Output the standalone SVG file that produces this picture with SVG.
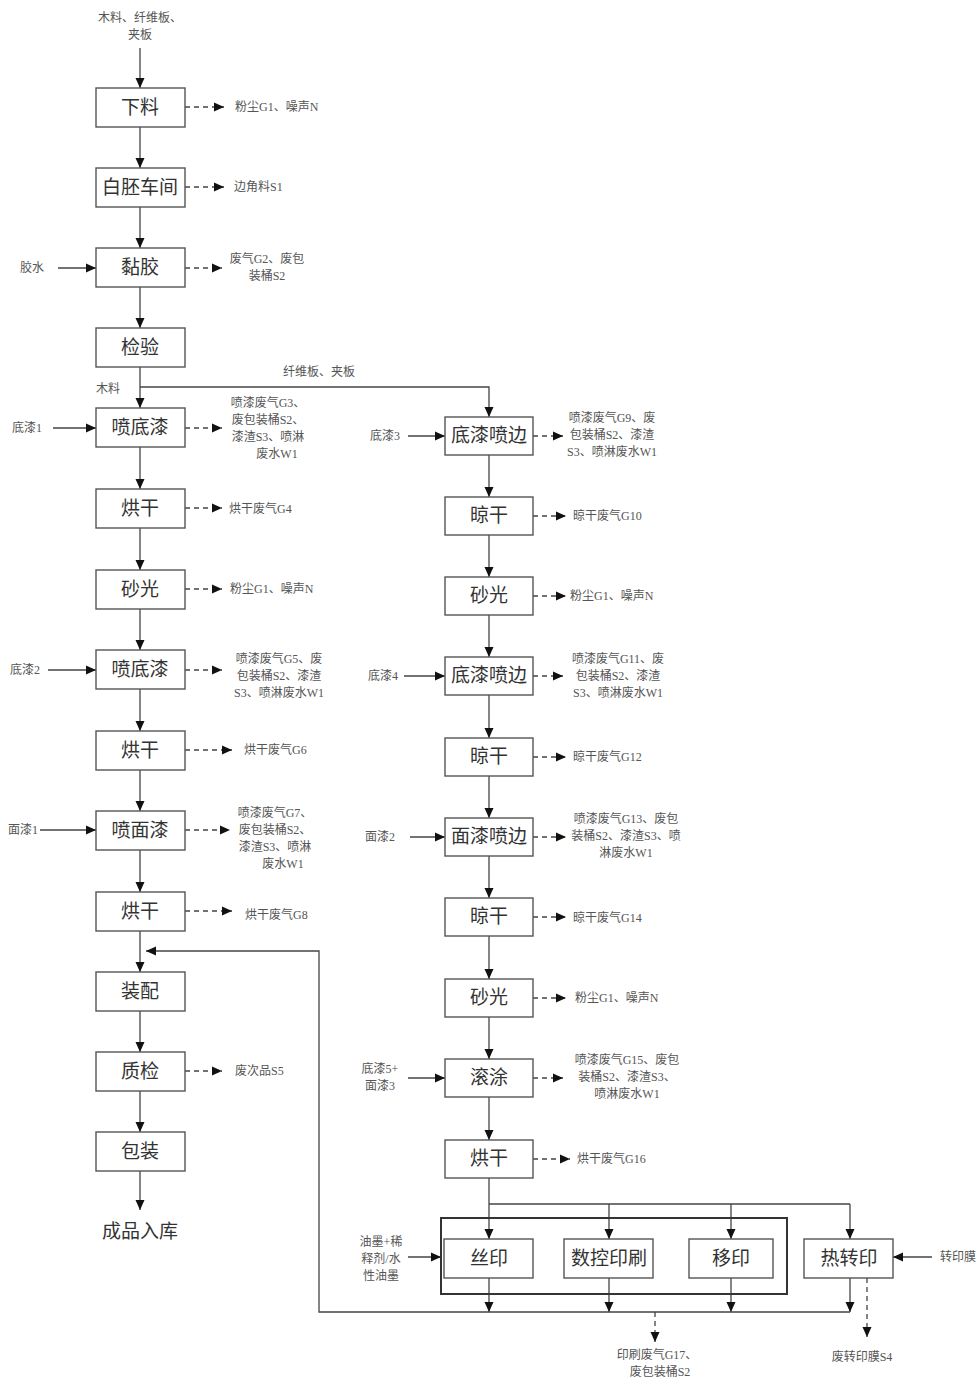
<svg xmlns="http://www.w3.org/2000/svg" width="979" height="1383" viewBox="0 0 979 1383">
<style>
.bx{fill:#fff;stroke:#555;stroke-width:1.4}
.ob{fill:none;stroke:#333;stroke-width:2}
.bt{font-family:"Liberation Serif","Noto Sans CJK SC",serif;font-size:19px;fill:#333;text-anchor:middle}
.st{font-family:"Liberation Serif","Noto Sans CJK SC",serif;font-size:12px;fill:#555}
.c{text-anchor:middle}
.ln{fill:none;stroke:#444;stroke-width:1.3}
.ar{fill:none;stroke:#444;stroke-width:1.3;marker-end:url(#a)}
.da{fill:none;stroke:#444;stroke-width:1.3;stroke-dasharray:5,4;marker-end:url(#a)}
</style>
<defs>
<marker id="a" markerWidth="10" markerHeight="10" refX="10" refY="5" orient="auto" markerUnits="userSpaceOnUse"><path d="M0,0.5 L10,5 L0,9.5z" fill="#111"/></marker>
</defs>
<rect width="979" height="1383" fill="#fff"/>

<g id="connectors">
<!-- left main flow -->
<line class="ar" x1="140" y1="48" x2="140" y2="88"/>
<line class="ar" x1="140" y1="127" x2="140" y2="168"/>
<line class="ar" x1="140" y1="207" x2="140" y2="248"/>
<line class="ar" x1="140" y1="287" x2="140" y2="328"/>
<line class="ar" x1="140" y1="367" x2="140" y2="408"/>
<line class="ar" x1="140" y1="447" x2="140" y2="489"/>
<line class="ar" x1="140" y1="528" x2="140" y2="570"/>
<line class="ar" x1="140" y1="609" x2="140" y2="650"/>
<line class="ar" x1="140" y1="689" x2="140" y2="731"/>
<line class="ar" x1="140" y1="770" x2="140" y2="811"/>
<line class="ar" x1="140" y1="850" x2="140" y2="892"/>
<line class="ar" x1="140" y1="931" x2="140" y2="972"/>
<line class="ar" x1="140" y1="1011" x2="140" y2="1052"/>
<line class="ar" x1="140" y1="1091" x2="140" y2="1132"/>
<line class="ar" x1="140" y1="1171" x2="140" y2="1210"/>
<!-- branch -->
<polyline class="ar" points="140,387 489,387 489,417"/>
<!-- left inputs -->
<line class="ar" x1="58" y1="268" x2="96" y2="268"/>
<line class="ar" x1="53" y1="428" x2="96" y2="428"/>
<line class="ar" x1="48" y1="670" x2="96" y2="670"/>
<line class="ar" x1="40" y1="830" x2="96" y2="830"/>
<!-- left outputs -->
<line class="da" x1="185" y1="107" x2="224" y2="107"/>
<line class="da" x1="185" y1="187" x2="224" y2="187"/>
<line class="da" x1="185" y1="268" x2="222" y2="268"/>
<line class="da" x1="185" y1="428" x2="222" y2="428"/>
<line class="da" x1="185" y1="508" x2="222" y2="508"/>
<line class="da" x1="185" y1="589" x2="222" y2="589"/>
<line class="da" x1="185" y1="670" x2="222" y2="670"/>
<line class="da" x1="185" y1="750" x2="232" y2="750"/>
<line class="da" x1="185" y1="830" x2="230" y2="830"/>
<line class="da" x1="185" y1="911" x2="232" y2="911"/>
<line class="da" x1="185" y1="1071" x2="222" y2="1071"/>
<!-- right main flow -->
<line class="ar" x1="489" y1="455" x2="489" y2="497"/>
<line class="ar" x1="489" y1="535" x2="489" y2="577"/>
<line class="ar" x1="489" y1="615" x2="489" y2="657"/>
<line class="ar" x1="489" y1="695" x2="489" y2="738"/>
<line class="ar" x1="489" y1="776" x2="489" y2="818"/>
<line class="ar" x1="489" y1="856" x2="489" y2="898"/>
<line class="ar" x1="489" y1="936" x2="489" y2="979"/>
<line class="ar" x1="489" y1="1017" x2="489" y2="1059"/>
<line class="ar" x1="489" y1="1097" x2="489" y2="1140"/>
<!-- right inputs -->
<line class="ar" x1="408" y1="436" x2="445" y2="436"/>
<line class="ar" x1="404" y1="676" x2="445" y2="676"/>
<line class="ar" x1="410" y1="837" x2="445" y2="837"/>
<line class="ar" x1="408" y1="1078" x2="445" y2="1078"/>
<!-- right outputs -->
<line class="da" x1="533" y1="436" x2="563" y2="436"/>
<line class="da" x1="533" y1="516" x2="566" y2="516"/>
<line class="da" x1="533" y1="596" x2="566" y2="596"/>
<line class="da" x1="533" y1="676" x2="563" y2="676"/>
<line class="da" x1="533" y1="757" x2="566" y2="757"/>
<line class="da" x1="533" y1="837" x2="566" y2="837"/>
<line class="da" x1="533" y1="917" x2="566" y2="917"/>
<line class="da" x1="533" y1="998" x2="566" y2="998"/>
<line class="da" x1="533" y1="1078" x2="563" y2="1078"/>
<line class="da" x1="533" y1="1159" x2="570" y2="1159"/>
<!-- printing section -->
<line class="ln" x1="489" y1="1178" x2="489" y2="1204"/>
<line class="ln" x1="489" y1="1204" x2="850" y2="1204"/>
<line class="ar" x1="489" y1="1204" x2="489" y2="1239"/>
<line class="ar" x1="609" y1="1204" x2="609" y2="1239"/>
<line class="ar" x1="731" y1="1204" x2="731" y2="1239"/>
<line class="ar" x1="850" y1="1204" x2="850" y2="1239"/>
<line class="ar" x1="408" y1="1257" x2="441" y2="1257"/>
<line class="ar" x1="932" y1="1257" x2="893" y2="1257"/>
<line class="ar" x1="489" y1="1278" x2="489" y2="1312"/>
<line class="ar" x1="609" y1="1278" x2="609" y2="1312"/>
<line class="ar" x1="731" y1="1278" x2="731" y2="1312"/>
<line class="ar" x1="850" y1="1278" x2="850" y2="1312"/>
<polyline class="ar" points="850,1312 319,1312 319,951 146,951"/>
<line class="da" x1="655" y1="1312" x2="655" y2="1342"/>
<line class="da" x1="867" y1="1278" x2="867" y2="1337"/>
</g>

<g id="input-top"><text class="st c" x="140" y="22">木料、纤维板、</text><text class="st c" x="140" y="39">夹板</text></g>
<g id="label-branch"><text class="st" x="283" y="376">纤维板、夹板</text><text class="st" x="96" y="393">木料</text></g>

<g id="n1"><rect class="bx" x="96" y="88" width="89" height="39"/><text class="bt" x="140" y="114">下料</text></g>
<g id="n2"><rect class="bx" x="96" y="168" width="89" height="39"/><text class="bt" x="140" y="194">白胚车间</text></g>
<g id="n3"><rect class="bx" x="96" y="248" width="89" height="39"/><text class="bt" x="140" y="274">黏胶</text></g>
<g id="n4"><rect class="bx" x="96" y="328" width="89" height="39"/><text class="bt" x="140" y="354">检验</text></g>
<g id="n5"><rect class="bx" x="96" y="408" width="89" height="39"/><text class="bt" x="140" y="434">喷底漆</text></g>
<g id="n6"><rect class="bx" x="96" y="489" width="89" height="39"/><text class="bt" x="140" y="515">烘干</text></g>
<g id="n7"><rect class="bx" x="96" y="570" width="89" height="39"/><text class="bt" x="140" y="596">砂光</text></g>
<g id="n8"><rect class="bx" x="96" y="650" width="89" height="39"/><text class="bt" x="140" y="676">喷底漆</text></g>
<g id="n9"><rect class="bx" x="96" y="731" width="89" height="39"/><text class="bt" x="140" y="757">烘干</text></g>
<g id="n10"><rect class="bx" x="96" y="811" width="89" height="39"/><text class="bt" x="140" y="837">喷面漆</text></g>
<g id="n11"><rect class="bx" x="96" y="892" width="89" height="39"/><text class="bt" x="140" y="918">烘干</text></g>
<g id="n12"><rect class="bx" x="96" y="972" width="89" height="39"/><text class="bt" x="140" y="998">装配</text></g>
<g id="n13"><rect class="bx" x="96" y="1052" width="89" height="39"/><text class="bt" x="140" y="1078">质检</text></g>
<g id="n14"><rect class="bx" x="96" y="1132" width="89" height="39"/><text class="bt" x="140" y="1158">包装</text></g>
<g id="n15"><text class="bt" x="140" y="1238">成品入库</text></g>

<g id="left-inputs">
<text class="st" x="20" y="272">胶水</text>
<text class="st" x="12" y="432">底漆1</text>
<text class="st" x="10" y="674">底漆2</text>
<text class="st" x="8" y="834">面漆1</text>
</g>
<g id="left-outputs">
<text class="st" x="235" y="111">粉尘G1、噪声N</text>
<text class="st" x="234" y="191">边角料S1</text>
<text class="st c" x="267" y="263">废气G2、废包</text><text class="st c" x="267" y="280">装桶S2</text>
<text class="st c" x="268" y="407">喷漆废气G3、</text><text class="st c" x="268" y="424">废包装桶S2、</text><text class="st c" x="268" y="441">漆渣S3、喷淋</text><text class="st c" x="277" y="458">废水W1</text>
<text class="st" x="229" y="513">烘干废气G4</text>
<text class="st" x="230" y="593">粉尘G1、噪声N</text>
<text class="st c" x="279" y="663">喷漆废气G5、废</text><text class="st c" x="279" y="680">包装桶S2、漆渣</text><text class="st c" x="279" y="697">S3、喷淋废水W1</text>
<text class="st" x="244" y="754">烘干废气G6</text>
<text class="st c" x="275" y="817">喷漆废气G7、</text><text class="st c" x="275" y="834">废包装桶S2、</text><text class="st c" x="275" y="851">漆渣S3、喷淋</text><text class="st c" x="283" y="868">废水W1</text>
<text class="st" x="245" y="919">烘干废气G8</text>
<text class="st" x="235" y="1075">废次品S5</text>
</g>

<g id="r1"><rect class="bx" x="445" y="417" width="88" height="38"/><text class="bt" x="489" y="442">底漆喷边</text></g>
<g id="r2"><rect class="bx" x="445" y="497" width="88" height="38"/><text class="bt" x="489" y="522">晾干</text></g>
<g id="r3"><rect class="bx" x="445" y="577" width="88" height="38"/><text class="bt" x="489" y="602">砂光</text></g>
<g id="r4"><rect class="bx" x="445" y="657" width="88" height="38"/><text class="bt" x="489" y="682">底漆喷边</text></g>
<g id="r5"><rect class="bx" x="445" y="738" width="88" height="38"/><text class="bt" x="489" y="763">晾干</text></g>
<g id="r6"><rect class="bx" x="445" y="818" width="88" height="38"/><text class="bt" x="489" y="843">面漆喷边</text></g>
<g id="r7"><rect class="bx" x="445" y="898" width="88" height="38"/><text class="bt" x="489" y="923">晾干</text></g>
<g id="r8"><rect class="bx" x="445" y="979" width="88" height="38"/><text class="bt" x="489" y="1004">砂光</text></g>
<g id="r9"><rect class="bx" x="445" y="1059" width="88" height="38"/><text class="bt" x="489" y="1084">滚涂</text></g>
<g id="r10"><rect class="bx" x="445" y="1140" width="88" height="38"/><text class="bt" x="489" y="1165">烘干</text></g>

<g id="right-inputs">
<text class="st" x="370" y="440">底漆3</text>
<text class="st" x="368" y="680">底漆4</text>
<text class="st" x="365" y="841">面漆2</text>
<text class="st c" x="380" y="1073">底漆5+</text><text class="st c" x="380" y="1090">面漆3</text>
</g>
<g id="right-outputs">
<text class="st c" x="612" y="422">喷漆废气G9、废</text><text class="st c" x="612" y="439">包装桶S2、漆渣</text><text class="st c" x="612" y="456">S3、喷淋废水W1</text>
<text class="st" x="573" y="520">晾干废气G10</text>
<text class="st" x="570" y="600">粉尘G1、噪声N</text>
<text class="st c" x="618" y="663">喷漆废气G11、废</text><text class="st c" x="618" y="680">包装桶S2、漆渣</text><text class="st c" x="618" y="697">S3、喷淋废水W1</text>
<text class="st" x="573" y="761">晾干废气G12</text>
<text class="st c" x="626" y="823">喷漆废气G13、废包</text><text class="st c" x="626" y="840">装桶S2、漆渣S3、喷</text><text class="st c" x="626" y="857">淋废水W1</text>
<text class="st" x="573" y="922">晾干废气G14</text>
<text class="st" x="575" y="1002">粉尘G1、噪声N</text>
<text class="st c" x="627" y="1064">喷漆废气G15、废包</text><text class="st c" x="627" y="1081">装桶S2、漆渣S3、</text><text class="st c" x="627" y="1098">喷淋废水W1</text>
<text class="st" x="577" y="1163">烘干废气G16</text>
</g>

<g id="print-group"><rect class="ob" x="441" y="1218" width="346" height="76"/></g>
<g id="p1"><rect class="bx" x="444" y="1239" width="89" height="39"/><text class="bt" x="489" y="1265">丝印</text></g>
<g id="p2"><rect class="bx" x="564" y="1239" width="89" height="39"/><text class="bt" x="609" y="1265">数控印刷</text></g>
<g id="p3"><rect class="bx" x="689" y="1239" width="84" height="39"/><text class="bt" x="731" y="1265">移印</text></g>
<g id="p4"><rect class="bx" x="804" y="1239" width="89" height="39"/><text class="bt" x="849" y="1265">热转印</text></g>

<g id="print-labels">
<text class="st c" x="381" y="1246">油墨+稀</text><text class="st c" x="381" y="1263">释剂/水</text><text class="st c" x="381" y="1280">性油墨</text>
<text class="st" x="940" y="1261">转印膜</text>
<text class="st c" x="657" y="1359">印刷废气G17、</text><text class="st c" x="660" y="1376">废包装桶S2</text>
<text class="st c" x="862" y="1361">废转印膜S4</text>
</g>
</svg>
